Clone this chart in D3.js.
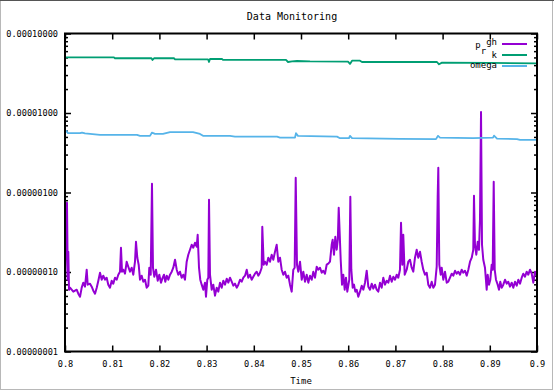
<!DOCTYPE html>
<html><head><meta charset="utf-8">
<script src="https://cdn.jsdelivr.net/npm/d3@7"></script>
<style>body{margin:0;background:#fff}svg{display:block}</style>
</head><body>
<script>
const title = "Data Monitoring";
const xLabel = "Time";
const xTicks = [0.8,0.81,0.82,0.83,0.84,0.85,0.86,0.87,0.88,0.89,0.9];
const xTickLabels = ["0.8","0.81","0.82","0.83","0.84","0.85","0.86","0.87","0.88","0.89","0.9"];
const yTicks = [1e-8,1e-7,1e-6,1e-5,1e-4];
const yTickLabels = ["0.00000001","0.00000010","0.00000100","0.00001000","0.00010000"];
const seriesColors = ["#9400d3","#009e73","#56b4e9"];

// p_rgh : time and value (value in units of 1e-8)
const pRghTime = [0.80000,0.80021,0.80042,0.80059,0.80070,0.80085,0.80106,0.80176,0.80248,0.80282,0.80318,0.80354,0.80388,0.80424,0.80460,0.80481,0.80530,0.80566,0.80600,0.80636,0.80672,0.80706,0.80742,0.80778,0.80811,0.80847,0.80883,0.80917,0.80953,0.80989,0.81023,0.81059,0.81095,0.81129,0.81165,0.81186,0.81208,0.81235,0.81271,0.81307,0.81341,0.81377,0.81413,0.81447,0.81483,0.81504,0.81532,0.81561,0.81589,0.81625,0.81659,0.81695,0.81731,0.81765,0.81786,0.81816,0.81843,0.81864,0.81892,0.81928,0.81964,0.81998,0.82034,0.82070,0.82097,0.82125,0.82155,0.82189,0.82225,0.82261,0.82294,0.82331,0.82367,0.82400,0.82436,0.82472,0.82506,0.82542,0.82578,0.82612,0.82648,0.82684,0.82718,0.82754,0.82790,0.82811,0.82839,0.82866,0.82896,0.82930,0.82966,0.82987,0.83015,0.83036,0.83051,0.83072,0.83108,0.83142,0.83178,0.83214,0.83248,0.83284,0.83320,0.83354,0.83390,0.83426,0.83460,0.83496,0.83532,0.83566,0.83602,0.83638,0.83672,0.83708,0.83744,0.83778,0.83814,0.83850,0.83883,0.83919,0.83955,0.83989,0.84025,0.84061,0.84095,0.84131,0.84167,0.84180,0.84210,0.84237,0.84273,0.84307,0.84343,0.84379,0.84413,0.84449,0.84485,0.84519,0.84555,0.84591,0.84625,0.84661,0.84697,0.84731,0.84767,0.84803,0.84837,0.84866,0.84888,0.84915,0.84943,0.84979,0.85015,0.85049,0.85085,0.85121,0.85155,0.85191,0.85227,0.85261,0.85297,0.85333,0.85367,0.85403,0.85439,0.85472,0.85508,0.85544,0.85578,0.85614,0.85650,0.85671,0.85699,0.85727,0.85756,0.85780,0.85799,0.85841,0.85869,0.85896,0.85926,0.85953,0.85981,0.86023,0.86045,0.86066,0.86095,0.86123,0.86150,0.86180,0.86214,0.86250,0.86286,0.86320,0.86356,0.86392,0.86426,0.86462,0.86498,0.86532,0.86568,0.86604,0.86638,0.86674,0.86710,0.86744,0.86780,0.86816,0.86850,0.86886,0.86922,0.86956,0.86992,0.87028,0.87061,0.87097,0.87119,0.87146,0.87167,0.87197,0.87239,0.87273,0.87309,0.87345,0.87379,0.87415,0.87451,0.87485,0.87521,0.87557,0.87591,0.87627,0.87663,0.87697,0.87733,0.87769,0.87803,0.87839,0.87875,0.87896,0.87909,0.87930,0.87960,0.87981,0.88015,0.88051,0.88087,0.88121,0.88157,0.88193,0.88227,0.88263,0.88299,0.88333,0.88369,0.88405,0.88439,0.88475,0.88511,0.88545,0.88581,0.88617,0.88650,0.88665,0.88686,0.88714,0.88744,0.88771,0.88792,0.88814,0.88835,0.88862,0.88898,0.88934,0.88955,0.88983,0.89011,0.89040,0.89061,0.89083,0.89104,0.89131,0.89167,0.89195,0.89222,0.89252,0.89286,0.89322,0.89358,0.89392,0.89428,0.89464,0.89498,0.89534,0.89570,0.89604,0.89640,0.89676,0.89710,0.89746,0.89782,0.89816,0.89852,0.89888,0.89922,0.89958,0.89989];
const pRghValueE8 = [6.93,25.45,74.23,8.00,17.99,5.99,6.35,5.66,5.99,5.34,4.89,6.35,7.34,6.54,10.69,6.93,7.13,6.54,5.82,5.34,6.35,7.77,9.80,8.00,8.99,8.00,8.48,6.93,6.35,7.77,7.13,8.48,8.00,9.25,10.09,20.20,10.09,10.69,9.52,13.47,11.66,10.09,11.32,9.25,13.47,24.03,15.12,12.35,8.00,8.99,7.55,8.00,6.35,6.73,11.32,9.25,128.6,11.32,8.73,10.69,7.77,9.25,7.34,8.48,9.25,7.55,8.99,8.00,9.25,10.09,11.32,14.27,10.69,9.25,10.09,8.48,9.25,8.00,13.47,16.49,19.06,22.03,20.20,23.34,20.79,29.42,11.32,8.00,6.93,5.99,7.34,4.89,8.00,8.48,80.96,9.25,5.99,6.93,5.04,6.35,5.66,7.34,6.35,7.77,6.93,8.24,7.34,8.48,7.55,6.73,7.13,6.35,6.93,8.00,7.55,8.48,8.99,10.69,8.48,9.25,8.00,8.73,9.52,10.09,8.99,9.80,11.32,37.08,12.35,13.47,12.35,15.12,13.47,16.49,14.27,17.99,22.03,13.47,15.12,10.69,9.25,10.09,8.48,8.99,6.93,5.66,10.69,11.32,153.0,12.35,10.09,13.47,8.00,10.09,7.55,9.25,7.34,8.99,8.00,10.09,8.48,11.66,10.69,11.32,9.80,10.38,9.52,12.35,12.71,13.47,22.03,25.45,16.49,27.76,19.06,25.45,64.24,14.27,6.93,9.25,5.99,8.48,5.66,8.00,88.30,10.69,6.35,6.93,5.66,5.99,4.89,5.66,6.73,5.99,7.34,10.38,6.54,5.99,7.13,6.17,6.93,5.99,5.66,7.34,6.35,8.48,6.93,7.77,7.34,8.99,7.55,8.73,8.00,9.25,8.48,10.69,41.63,12.35,29.42,9.25,10.69,13.47,14.27,11.32,10.09,15.12,19.06,15.12,17.99,13.47,10.69,9.25,9.80,6.93,6.35,7.55,6.35,6.93,11.66,88.30,204.3,12.35,9.25,11.32,8.00,10.09,7.34,7.55,8.48,9.52,8.99,10.38,9.52,10.09,9.25,10.69,9.80,10.38,8.99,10.69,13.47,15.12,19.06,90.89,22.03,16.49,24.03,19.06,45.40,1032,22.03,14.27,11.32,5.99,9.25,6.93,8.00,12.35,10.69,136.3,10.69,8.00,6.93,5.99,7.55,6.35,6.93,8.00,7.13,7.55,6.54,7.34,6.35,7.55,6.73,8.00,7.13,8.48,9.52,8.73,10.09,9.25,10.69,9.52,7.34,10.09,9.25];

// k : time and value
const kTime = [0.80000,0.81038,0.81059,0.81833,0.81854,0.81886,0.82309,0.82331,0.83030,0.83051,0.83072,0.83326,0.83347,0.84682,0.84725,0.84809,0.84915,0.85191,0.85996,0.86038,0.86081,0.86250,0.86292,0.87881,0.87924,0.87987,0.89004,0.90000];
const kValue = [5.02e-5,5.02e-5,4.88e-5,4.88e-5,4.65e-5,4.88e-5,4.88e-5,4.74e-5,4.74e-5,4.38e-5,4.78e-5,4.78e-5,4.65e-5,4.65e-5,4.38e-5,4.45e-5,4.51e-5,4.45e-5,4.42e-5,4.14e-5,4.55e-5,4.55e-5,4.38e-5,4.38e-5,4.10e-5,4.30e-5,4.26e-5,4.22e-5];

// omega : time and value
const omegaTime = [0.80000,0.80032,0.80064,0.80318,0.80360,0.80424,0.80636,0.80742,0.81525,0.81589,0.81801,0.81843,0.81907,0.82076,0.82225,0.82712,0.82860,0.82924,0.83496,0.83602,0.84492,0.84555,0.84873,0.84894,0.84936,0.85763,0.85826,0.86017,0.86038,0.86081,0.87097,0.87860,0.87903,0.87945,0.88644,0.89068,0.89089,0.89153,0.89576,0.89640,0.90000];
const omegaValue = [5.62e-6,5.96e-6,5.57e-6,5.57e-6,5.67e-6,5.54e-6,5.38e-6,5.31e-6,5.31e-6,5.16e-6,5.16e-6,5.67e-6,5.46e-6,5.46e-6,5.74e-6,5.74e-6,5.46e-6,5.16e-6,5.16e-6,5.05e-6,5.05e-6,4.91e-6,4.91e-6,5.57e-6,5.16e-6,5.05e-6,4.82e-6,4.82e-6,5.16e-6,4.82e-6,4.73e-6,4.69e-6,5.16e-6,4.91e-6,4.82e-6,4.91e-6,5.20e-6,4.77e-6,4.69e-6,4.59e-6,4.59e-6];

const W = 554, H = 391;
const m = {left: 65, right: 537, top: 33.5, bottom: 351.5};
const svg = d3.select("body").append("svg").attr("width", W).attr("height", H);
const mono = "'DejaVu Sans Mono', monospace";

// window frame
svg.append("rect").attr("x",0.5).attr("y",0.5).attr("width",W-2).attr("height",H-2)
  .attr("fill","none").attr("stroke","#b8b8b8");
svg.append("line").attr("x1",0).attr("x2",W).attr("y1",0.5).attr("y2",0.5).attr("stroke","#555");

const x = d3.scaleLinear().domain([0.8,0.9]).range([m.left,m.right]);
const y = d3.scaleLog().domain([1e-8,1e-4]).range([m.bottom,m.top]);

// minor y ticks
const minor = [];
for (let e = -8; e < -4; e++) for (let k = 2; k <= 9; k++) minor.push(k * Math.pow(10, e));

const g = svg.append("g");
const axL = d3.axisLeft(y).tickValues(yTicks).tickSize(-6).tickFormat((d,i)=>yTickLabels[i]).tickPadding(7);
const axLm = d3.axisLeft(y).tickValues(minor).tickSize(-3).tickFormat("");
const axR = d3.axisRight(y).tickValues(yTicks).tickSize(-6).tickFormat("");
const axRm = d3.axisRight(y).tickValues(minor).tickSize(-3).tickFormat("");
const axB = d3.axisBottom(x).tickValues(xTicks).tickSize(-6).tickFormat((d,i)=>xTickLabels[i]).tickPadding(9);
const axT = d3.axisTop(x).tickValues(xTicks).tickSize(-6).tickFormat("");

function style(sel){
  sel.select(".domain").remove();
  sel.selectAll(".tick line").attr("stroke","#000").attr("stroke-width",1.5);
  sel.selectAll(".tick text").attr("font-family",mono).attr("font-size","8.6px").attr("fill","#000");
}
g.append("g").attr("transform",`translate(${m.left},0)`).call(axL).call(style);
g.append("g").attr("transform",`translate(${m.left},0)`).call(axLm).call(style);
g.append("g").attr("transform",`translate(${m.right},0)`).call(axR).call(style);
g.append("g").attr("transform",`translate(${m.right},0)`).call(axRm).call(style);
g.append("g").attr("transform",`translate(0,${m.bottom})`).call(axB).call(style);
g.append("g").attr("transform",`translate(0,${m.top})`).call(axT).call(style);

// series
const series = [
  {name:"p_rgh", t:pRghTime, v:pRghValueE8.map(d=>d*1e-8), color:seriesColors[0], w:2},
  {name:"k", t:kTime, v:kValue, color:seriesColors[1], w:1.8},
  {name:"omega", t:omegaTime, v:omegaValue, color:seriesColors[2], w:1.8}
];
const line = d3.line().x(d=>x(d[0])).y(d=>y(d[1]));
svg.append("clipPath").attr("id","clip").append("rect")
  .attr("x",m.left).attr("y",m.top).attr("width",m.right-m.left).attr("height",m.bottom-m.top);
series.forEach(s=>{
  svg.append("path").datum(s.t.map((t,i)=>[t,s.v[i]]))
    .attr("d",line).attr("fill","none").attr("stroke",s.color)
    .attr("stroke-width",s.w).attr("stroke-linejoin","round")
    .attr("clip-path","url(#clip)");
});

// border
svg.append("rect").attr("x",m.left).attr("y",m.top).attr("width",m.right-m.left).attr("height",m.bottom-m.top)
  .attr("fill","none").attr("stroke","#000").attr("stroke-width",2);

// title and x label
svg.append("text").attr("x",292).attr("y",20).attr("text-anchor","middle")
  .attr("font-family",mono).attr("font-size","10px").text(title);
svg.append("text").attr("x",301).attr("y",384).attr("text-anchor","middle")
  .attr("font-family",mono).attr("font-size","9px").text(xLabel);

// legend
const lg = svg.append("g").attr("font-family",mono).attr("font-size","9px");
const t1 = lg.append("text").attr("x",497).attr("y",47.5).attr("text-anchor","end");
t1.append("tspan").text("p");
t1.append("tspan").attr("dy",6).text("r");
t1.append("tspan").attr("dy",-8.5).text("gh");
lg.append("text").attr("x",497).attr("y",58).attr("text-anchor","end").text("k");
lg.append("text").attr("x",497).attr("y",67.5).attr("text-anchor","end").text("omega");
[44,55,66].forEach((yy,i)=>{
  lg.append("line").attr("x1",502).attr("x2",527).attr("y1",yy).attr("y2",yy)
    .attr("stroke",seriesColors[i]).attr("stroke-width",2);
});
</script>
</body></html>
